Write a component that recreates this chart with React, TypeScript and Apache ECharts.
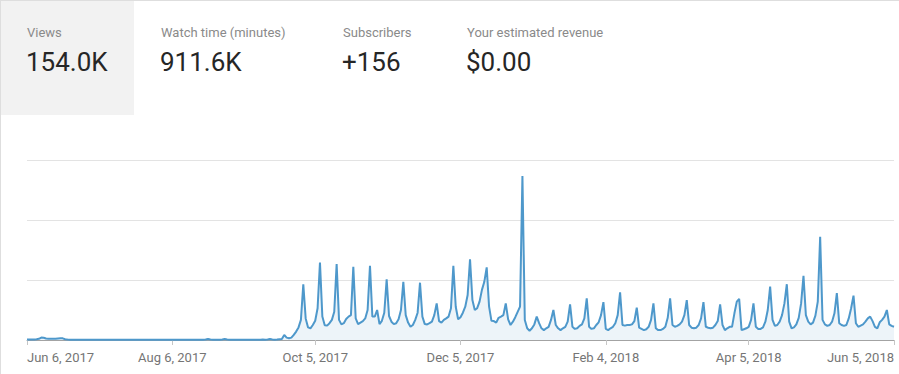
import React, { useEffect, useRef } from "react";
import * as echarts from "echarts";

// Daily views, Jun 6, 2017 .. Jun 5, 2018 (365 days)
const VIEWS_JUN_SEP = [
  // d0 - d19
  20, 20, 15, 20, 25, 40, 80, 75, 50, 45, 40, 40, 40, 50, 60, 55, 25, 15, 12, 10,
  // d20 - d59
  10, 12, 10, 8, 10, 12, 10, 10, 9, 11, 10, 12, 10, 8, 10, 10, 11, 9, 10, 12,
  10, 10, 8, 10, 11, 10, 12, 9, 10, 10, 8, 10, 12, 10, 10, 11, 9, 10, 10, 12,
  // d60 - d99
  10, 10, 8, 10, 11, 10, 12, 10, 9, 10, 10, 12, 10, 11, 10, 14, 35, 16, 10, 10,
  12, 10, 15, 35, 15, 10, 10, 9, 10, 12, 10, 10, 8, 10, 11, 10, 12, 10, 10, 14,
  // d100 - d115
  12, 15, 30, 15, 10, 15, 25, 35, 170, 80, 60, 80, 170, 280, 420, 670,
];

const VIEWS_OCT_JAN = [
  1860, 720, 420, 390, 500, 640, 1060,
  2580, 780, 490, 480, 560, 670, 940,
  2530, 670, 520, 560, 700, 780, 830,
  2440, 720, 530, 580, 630, 720, 1000,
  2470, 780, 780, 1000, 530, 640, 910,
  2020, 800, 610, 530, 560, 690, 1000,
  1940, 830, 580, 440, 500, 670, 910,
  1910, 780, 530, 520, 560, 610, 830,
  1220, 630, 580, 670, 720, 780, 1060,
  2470, 1110, 690, 760, 910, 1110, 1500,
  2690, 1330, 1000, 1060, 1280, 1670, 1940,
  2420, 1110, 640, 630, 580, 740, 780,
  830, 1220, 690, 500, 610, 760, 940, 1110,
  5470,
];

const VIEWS_JAN_JUN = [
  670, 390, 310, 390, 520, 780, 560,
  390, 330, 390, 440, 670, 1000, 500,
  390, 330, 390, 440, 610, 1190, 440,
  370, 390, 470, 520, 720, 1390, 440,
  370, 390, 500, 590, 830, 1260, 370,
  330, 390, 440, 560, 830, 1590, 500,
  480, 500, 500, 520, 630, 1080, 410,
  370, 330, 360, 440, 670, 1220, 390,
  330, 330, 370, 440, 740, 1390, 500,
  440, 470, 520, 610, 830, 1330, 500,
  410, 390, 410, 500, 720, 1260, 440,
  410, 390, 410, 500, 630, 1190, 500,
  330, 390, 440, 440, 890, 1280, 1370,
  330, 360, 390, 440, 670, 1220, 440,
  370, 370, 420, 610, 1000, 1780, 670,
  470, 500, 610, 830, 1220, 1860, 610,
  390, 420, 520, 740, 1220, 2140, 830,
  610, 520, 580, 810, 1280, 3440, 670,
  520, 470, 500, 610, 890, 1560, 560,
  500, 470, 500, 720, 1060, 1480, 560,
  440, 480, 520, 610, 720, 780, 630,
  440, 390, 590, 670, 780, 1000, 520,
  470, 440,
];

const VIEWS = [...VIEWS_JUN_SEP, ...VIEWS_OCT_JAN, ...VIEWS_JAN_JUN];

const START_DATE = Date.UTC(2017, 5, 6);
const MONTHS = ["Jan", "Feb", "Mar", "Apr", "May", "Jun", "Jul", "Aug", "Sep", "Oct", "Nov", "Dec"];
const CATEGORIES = VIEWS.map((_, i) => {
  const d = new Date(START_DATE + i * 86400000);
  return `${MONTHS[d.getUTCMonth()]} ${d.getUTCDate()}, ${d.getUTCFullYear()}`;
});

const TICK_LABELS = ["Jun 6, 2017", "Aug 6, 2017", "Oct 5, 2017", "Dec 5, 2017", "Feb 4, 2018", "Apr 5, 2018", "Jun 5, 2018"];

const METRIC_LABELS = ["Views", "Watch time (minutes)", "Subscribers", "Your estimated revenue"];
const METRIC_VALUES = ["154.0K", "911.6K", "+156", "$0.00"];
const METRIC_X = [27, 161, 343, 467];

const FONT = "Roboto, 'Noto Sans', Arial, sans-serif";

export default function App() {
  const ref = useRef<HTMLDivElement>(null);

  useEffect(() => {
    document.body.style.margin = "0";
    const chart = echarts.init(ref.current!, null, { renderer: "svg" });

    const headerGraphics: any[] = [
      {
        type: "rect",
        shape: { x: 1, y: 1, width: 133, height: 114 },
        style: { fill: "#f2f2f2" },
        z: 0,
        silent: true,
      },
      {
        type: "line",
        shape: { x1: 0, y1: 0.5, x2: 899, y2: 0.5 },
        style: { stroke: "#dedede", lineWidth: 1 },
        silent: true,
      },
      {
        type: "line",
        shape: { x1: 0.5, y1: 0, x2: 0.5, y2: 374 },
        style: { stroke: "#dedede", lineWidth: 1 },
        silent: true,
      },
    ];
    METRIC_LABELS.forEach((label, i) => {
      headerGraphics.push({
        type: "text",
        x: METRIC_X[i],
        y: 32,
        z: 10,
        silent: true,
        style: {
          text: label,
          fill: "#8a8a8a",
          fontSize: 13,
          fontFamily: FONT,
          align: "left",
          verticalAlign: "middle",
          textAlign: "left",
          textVerticalAlign: "middle",
        },
      });
      headerGraphics.push({
        type: "text",
        x: METRIC_X[i] - 1,
        y: 62,
        z: 10,
        silent: true,
        style: {
          text: METRIC_VALUES[i],
          fill: "#262626",
          fontSize: 26,
          fontFamily: FONT,
          align: "left",
          verticalAlign: "middle",
          textAlign: "left",
          textVerticalAlign: "middle",
        },
      });
    });

    chart.setOption({
      animation: false,
      backgroundColor: "#ffffff",
      textStyle: { fontFamily: FONT },
      graphic: headerGraphics,
      grid: {
        left: 27,
        right: 5,
        top: 160,
        bottom: 34,
        containLabel: false,
        outerBoundsMode: "none",
      },
      tooltip: { show: false },
      xAxis: {
        type: "category",
        data: CATEGORIES,
        boundaryGap: false,
        axisLine: { lineStyle: { color: "#a3a3a3", width: 1 } },
        axisTick: {
          show: true,
          length: 5,
          interval: (index: number, value: string) => TICK_LABELS.includes(value),
          lineStyle: { color: "#c6c6c6" },
        },
        axisLabel: {
          interval: (index: number, value: string) => TICK_LABELS.includes(value),
          color: "#757575",
          fontSize: 13,
          fontFamily: FONT,
          margin: 11,
          alignMinLabel: "left",
          alignMaxLabel: "right",
          showMinLabel: true,
          showMaxLabel: true,
        },
        splitLine: { show: false },
      },
      yAxis: {
        type: "value",
        min: 0,
        max: 6000,
        interval: 2000,
        axisLine: { show: false },
        axisTick: { show: false },
        axisLabel: { show: false },
        splitLine: { lineStyle: { color: "#e3e3e3", width: 1 } },
      },
      series: [
        {
          type: "line",
          data: VIEWS,
          symbol: "none",
          showSymbol: false,
          smooth: false,
          silent: true,
          lineStyle: { color: "#4e98cb", width: 2 },
          areaStyle: { color: "#edf4f9", opacity: 1 },
          emphasis: { disabled: true },
        },
      ],
    });

    return () => chart.dispose();
  }, []);

  return <div ref={ref} style={{ width: 899, height: 374 }} />;
}
